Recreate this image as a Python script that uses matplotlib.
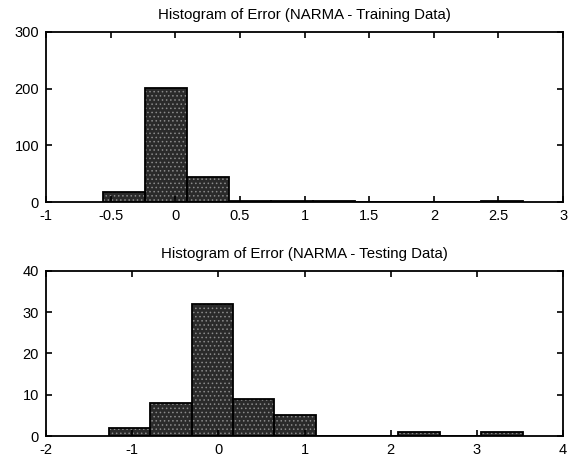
#!/usr/bin/env python3
"""Histogram of error for the NARMA model, training and testing data."""

import matplotlib
matplotlib.use("Agg")
import matplotlib.pyplot as plt
import numpy as np

# Training data histogram (10 bins)
train_edges = [-0.56, -0.235, 0.09, 0.415, 0.74, 1.065, 1.39, 1.715, 2.04, 2.365, 2.69]
train_counts = [17, 202, 44, 1, 1, 1, 0, 0, 0, 2]
train_xticks = [-1, -0.5, 0, 0.5, 1, 1.5, 2, 2.5, 3]
train_yticks = [0, 100, 200, 300]

# Testing data histogram (10 bins)
test_edges = [-1.27, -0.79, -0.31, 0.17, 0.65, 1.13, 1.61, 2.09, 2.57, 3.05, 3.53]
test_counts = [2, 8, 32, 9, 5, 0, 0, 1, 0, 1]
test_xticks = [-2, -1, 0, 1, 2, 3, 4]
test_yticks = [0, 10, 20, 30, 40]

plt.rcParams["font.family"] = ["Liberation Sans", "DejaVu Sans"]
plt.rcParams["axes.unicode_minus"] = False
plt.rcParams["hatch.linewidth"] = 0.6


def draw_hist(ax, edges, counts, xticks, yticks, title):
    edges = np.asarray(edges)
    widths = np.diff(edges)
    # speckled fill, then black outline
    ax.bar(edges[:-1], counts, width=widths, align="edge",
           facecolor="#2a2a2a", edgecolor="#8a8a8a", linewidth=0, hatch="....")
    ax.bar(edges[:-1], counts, width=widths, align="edge",
           facecolor="none", edgecolor="black", linewidth=1.3)
    ax.set_xlim(xticks[0], xticks[-1])
    ax.set_ylim(yticks[0], yticks[-1])
    ax.set_xticks(xticks)
    ax.set_xticklabels([f"{t:g}" for t in xticks])
    ax.set_yticks(yticks)
    ax.tick_params(direction="in", top=True, right=True, length=4,
                   width=1.2, labelsize=10.5, pad=5)
    for s in ax.spines.values():
        s.set_linewidth(1.3)
    ax.set_title(title, fontsize=10.8, pad=9)


fig = plt.figure(figsize=(5.81, 4.61), dpi=100)
ax1 = fig.add_axes([0.0792, 0.5618, 0.890, 0.3688])
ax2 = fig.add_axes([0.0792, 0.0542, 0.890, 0.358])

draw_hist(ax1, train_edges, train_counts, train_xticks, train_yticks,
          "Histogram of Error (NARMA - Training Data)")
draw_hist(ax2, test_edges, test_counts, test_xticks, test_yticks,
          "Histogram of Error (NARMA - Testing Data)")

fig.savefig("out.png", dpi=100)
